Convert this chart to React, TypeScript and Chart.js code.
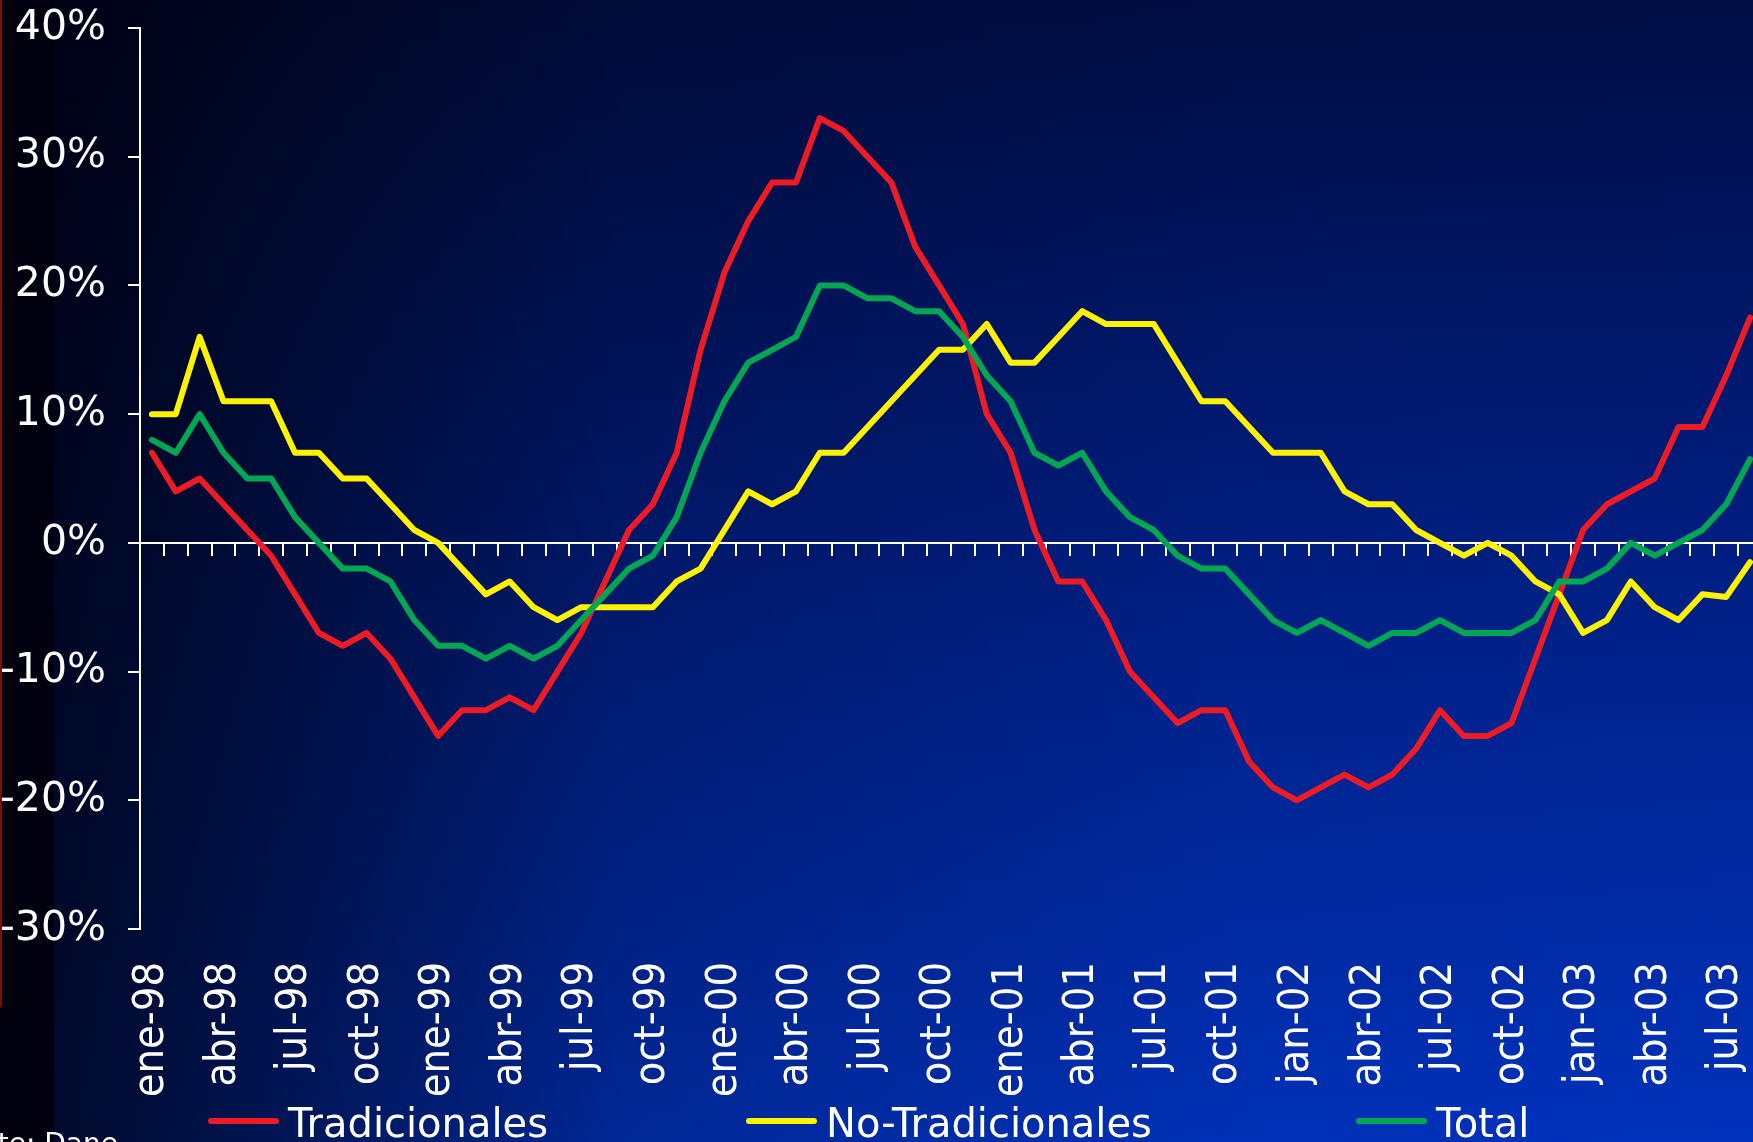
import React, { useEffect, useRef } from 'react';
import { Chart, registerables } from 'chart.js';

Chart.register(...registerables);

const MONTHS = [
  'ene-98', 'feb-98', 'mar-98', 'abr-98', 'may-98', 'jun-98', 'jul-98', 'ago-98', 'sep-98', 'oct-98', 'nov-98', 'dic-98',
  'ene-99', 'feb-99', 'mar-99', 'abr-99', 'may-99', 'jun-99', 'jul-99', 'ago-99', 'sep-99', 'oct-99', 'nov-99', 'dic-99',
  'ene-00', 'feb-00', 'mar-00', 'abr-00', 'may-00', 'jun-00', 'jul-00', 'ago-00', 'sep-00', 'oct-00', 'nov-00', 'dic-00',
  'ene-01', 'feb-01', 'mar-01', 'abr-01', 'may-01', 'jun-01', 'jul-01', 'ago-01', 'sep-01', 'oct-01', 'nov-01', 'dic-01',
  'jan-02', 'feb-02', 'mar-02', 'abr-02', 'may-02', 'jun-02', 'jul-02', 'ago-02', 'sep-02', 'oct-02', 'nov-02', 'dic-02',
  'jan-03', 'feb-03', 'mar-03', 'abr-03', 'may-03', 'jun-03', 'jul-03', 'ago-03',
];

const TRADICIONALES = [
  7, 4, 5, 3, 1, -1, -4, -7, -8, -7, -9, -12,
  -15, -13, -13, -12, -13, -10, -7, -3, 1, 3, 7, 15,
  21, 25, 28, 28, 33, 32, 30, 28, 23, 20, 17, 10,
  7, 1, -3, -3, -6, -10, -12, -14, -13, -13, -17, -19,
  -20, -19, -18, -19, -18, -16, -13, -15, -15, -14, -9, -4,
  1, 3, 4, 5, 9, 9, 13, 17.5,
];

const NO_TRADICIONALES = [
  10, 10, 16, 11, 11, 11, 7, 7, 5, 5, 3, 1,
  0, -2, -4, -3, -5, -6, -5, -5, -5, -5, -3, -2,
  1, 4, 3, 4, 7, 7, 9, 11, 13, 15, 15, 17,
  14, 14, 16, 18, 17, 17, 17, 14, 11, 11, 9, 7,
  7, 7, 4, 3, 3, 1, 0, -1, 0, -1, -3, -4,
  -7, -6, -3, -5, -6, -4, -4.2, -1.5,
];

const TOTAL = [
  8, 7, 10, 7, 5, 5, 2, 0, -2, -2, -3, -6,
  -8, -8, -9, -8, -9, -8, -6, -4, -2, -1, 2, 7,
  11, 14, 15, 16, 20, 20, 19, 19, 18, 18, 16, 13,
  11, 7, 6, 7, 4, 2, 1, -1, -2, -2, -4, -6,
  -7, -6, -7, -8, -7, -7, -6, -7, -7, -7, -6, -3,
  -3, -2, 0, -1, 0, 1, 3, 6.5,
];

const SERIES_LABELS = ['Tradicionales', 'No-Tradicionales', 'Total'];
const Y_MIN = -30;
const Y_MAX = 40;
const Y_STEP = 10;
const SOURCE_TEXT = 'Fuente: Dane';

const W = 1762;
const H = 1142;
const FONT = '"DejaVu Sans", Verdana, sans-serif';
const FONT_COND = '"DejaVu Sans Condensed", "DejaVu Sans", sans-serif';

export default function App() {
  const ref = useRef<HTMLCanvasElement>(null);

  useEffect(() => {
    const canvas = ref.current;
    if (!canvas) return;

    const background = {
      id: 'background',
      beforeDraw(chart: any) {
        const { ctx, width, height } = chart;
        ctx.save();
        const v = ctx.createLinearGradient(0, 0, 0, height);
        v.addColorStop(0, '#000d44');
        v.addColorStop(0.45, '#001d7e');
        v.addColorStop(1, '#0032bc');
        ctx.fillStyle = v;
        ctx.fillRect(0, 0, width, height);
        const h = ctx.createLinearGradient(0, 0, width, 0);
        h.addColorStop(0, 'rgba(0,0,10,0.85)');
        h.addColorStop(0.08, 'rgba(0,0,10,0.72)');
        h.addColorStop(0.35, 'rgba(0,0,10,0.22)');
        h.addColorStop(0.7, 'rgba(0,0,10,0.03)');
        h.addColorStop(1, 'rgba(0,0,10,0)');
        ctx.fillStyle = h;
        ctx.fillRect(0, 0, width, height);
        ctx.fillStyle = '#00000e';
        ctx.fillRect(0, 0, 54, height);
        ctx.fillStyle = '#8a0808';
        ctx.fillRect(0, 0, 2, 1007);
        ctx.restore();
      },
    };

    const customLegend = {
      id: 'customLegend',
      afterDraw(chart: any) {
        const { ctx } = chart;
        const xs = [208, 746, 1356];
        ctx.save();
        ctx.font = `40px ${FONT}`;
        ctx.textBaseline = 'alphabetic';
        ctx.textAlign = 'left';
        chart.data.datasets.forEach((ds: any, i: number) => {
          const x = xs[i];
          ctx.strokeStyle = ds.borderColor;
          ctx.lineWidth = 6;
          ctx.lineCap = 'round';
          ctx.beginPath();
          ctx.moveTo(x + 3, 1121);
          ctx.lineTo(x + 68, 1121);
          ctx.stroke();
          ctx.fillStyle = '#ffffff';
          ctx.fillText(ds.label, x + 80, 1137);
        });
        ctx.font = `28px ${FONT}`;
        ctx.textAlign = 'right';
        ctx.textBaseline = 'alphabetic';
        ctx.fillText(SOURCE_TEXT, 118, 1153);
        ctx.restore();
      },
    };

    const chart = new Chart(canvas, {
      type: 'line',
      data: {
        labels: MONTHS,
        datasets: [
          {
            label: SERIES_LABELS[0],
            data: TRADICIONALES,
            borderColor: '#ed1c24',
            order: 3,
          },
          {
            label: SERIES_LABELS[1],
            data: NO_TRADICIONALES,
            borderColor: '#fff200',
            order: 2,
          },
          {
            label: SERIES_LABELS[2],
            data: TOTAL,
            borderColor: '#00a651',
            order: 1,
          },
        ].map((d) => ({
          ...d,
          backgroundColor: d.borderColor,
          borderWidth: 6,
          pointRadius: 0,
          pointHoverRadius: 0,
          tension: 0,
          fill: false,
          borderJoinStyle: 'round' as const,
          borderCapStyle: 'round' as const,
          xAxisID: 'x',
          yAxisID: 'y',
        })),
      },
      options: {
        responsive: false,
        animation: false,
        devicePixelRatio: 1,
        layout: { padding: { top: 28, left: 0, right: 0, bottom: 0 } },
        plugins: {
          legend: { display: false },
          tooltip: { enabled: false },
        },
        scales: {
          x: {
            type: 'category',
            position: 'bottom',
            offset: true,
            grid: { display: false, drawTicks: false, tickLength: 0 },
            border: { display: false },
            ticks: {
              autoSkip: false,
              minRotation: 90,
              maxRotation: 90,
              padding: 33,
              color: '#ffffff',
              font: { family: FONT_COND, size: 43 },
              callback: (_v: any, i: number) => (i % 3 === 0 ? MONTHS[i] : ''),
            },
            afterFit(s: any) {
              s.height = 213;
              s.paddingLeft = 0;
              s.paddingRight = 0;
            },
          },
          x0: {
            type: 'category',
            axis: 'x',
            position: { y: 0 },
            offset: true,
            grid: {
              display: true,
              offset: true,
              drawOnChartArea: false,
              drawTicks: true,
              tickLength: 12,
              color: '#ffffff',
              lineWidth: 2,
            },
            border: { display: true, color: '#ffffff', width: 2 },
            ticks: { display: false },
            afterFit(s: any) {
              s.paddingLeft = 0;
              s.paddingRight = 0;
            },
          },
          y: {
            type: 'linear',
            min: Y_MIN,
            max: Y_MAX,
            ticks: {
              stepSize: Y_STEP,
              padding: 22,
              color: '#ffffff',
              font: { family: FONT, size: 41 },
              callback: (v: any) => `${v}%`,
            },
            grid: {
              drawOnChartArea: false,
              drawTicks: true,
              tickLength: 12,
              color: '#ffffff',
              lineWidth: 2,
            },
            border: { display: true, color: '#ffffff', width: 2 },
            afterFit(s: any) {
              s.width = 140;
              s.paddingTop = 0;
              s.paddingBottom = 0;
            },
          },
        },
      } as any,
      plugins: [background, customLegend],
    });

    return () => chart.destroy();
  }, []);

  return (
    <div
      style={{
        position: 'fixed',
        left: 0,
        top: 0,
        width: 1753,
        height: 1142,
        overflow: 'hidden',
        background: '#000d44',
      }}
    >
      <canvas
        ref={ref}
        width={W}
        height={H}
        style={{ display: 'block', width: W, height: H }}
      />
    </div>
  );
}
